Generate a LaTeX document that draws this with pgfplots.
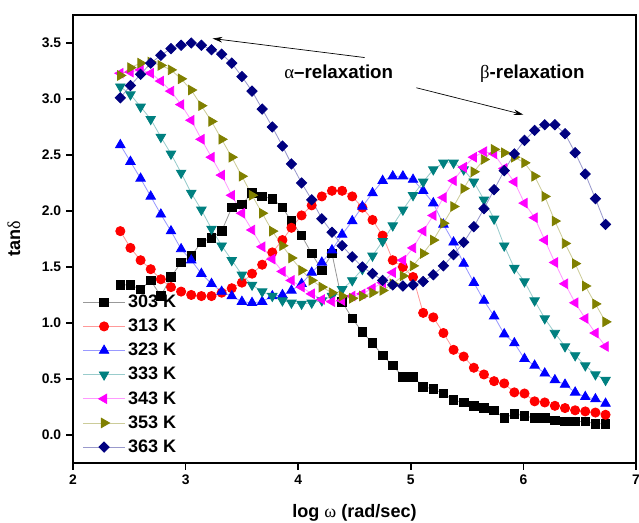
\documentclass[border=0pt]{standalone}
\usepackage{pgfplots}
\pgfplotsset{compat=1.18}
\usepackage{pgfplotstable}
\usepackage{fontspec}
\setmainfont{Liberation Sans}
\newfontfamily\grk{Liberation Serif}
\usetikzlibrary{arrows.meta}

\definecolor{cteal}{RGB}{0,128,128}
\definecolor{colive}{RGB}{128,128,0}
\definecolor{cnavy}{RGB}{0,0,128}
\definecolor{cmag}{RGB}{255,0,255}
\definecolor{cred}{RGB}{255,0,0}
\definecolor{cblue}{RGB}{0,0,255}

\pgfplotstableread{
x s303 s313 s323 s333 s343 s353 s363
2.42 1.34 1.82 2.59 3.11 3.23 3.21 3.01
2.51 1.34 1.67 2.44 3.04 3.24 3.28 3.12
2.60 1.30 1.56 2.29 2.93 3.26 3.32 3.22
2.69 1.38 1.48 2.13 2.82 3.23 3.33 3.32
2.78 1.24 1.39 1.97 2.66 3.16 3.30 3.39
2.87 1.41 1.32 1.82 2.51 3.07 3.26 3.45
2.96 1.54 1.28 1.66 2.34 2.95 3.18 3.48
3.05 1.60 1.25 1.56 2.16 2.81 3.08 3.50
3.14 1.72 1.24 1.44 2.01 2.64 2.94 3.48
3.23 1.76 1.24 1.35 1.84 2.48 2.80 3.44
3.32 1.82 1.27 1.28 1.69 2.32 2.64 3.40
3.41 2.03 1.31 1.24 1.56 2.14 2.48 3.32
3.50 2.06 1.36 1.19 1.43 1.98 2.31 3.20
3.59 2.16 1.44 1.18 1.34 1.83 2.14 3.07
3.68 2.13 1.52 1.19 1.28 1.68 1.98 2.91
3.77 2.11 1.63 1.24 1.24 1.57 1.82 2.75
3.86 2.03 1.74 1.25 1.20 1.46 1.69 2.58
3.94 1.91 1.85 1.29 1.18 1.38 1.58 2.42
4.03 1.78 1.96 1.35 1.17 1.32 1.47 2.25
4.12 1.62 2.05 1.45 1.18 1.26 1.38 2.10
4.21 1.47 2.13 1.54 1.20 1.21 1.32 1.93
4.30 1.62 2.18 1.65 1.24 1.19 1.27 1.81
4.39 1.19 2.18 1.79 1.30 1.20 1.24 1.69
4.48 1.04 2.13 1.91 1.38 1.24 1.22 1.59
4.57 0.92 2.03 2.04 1.48 1.26 1.24 1.50
4.66 0.82 1.92 2.16 1.60 1.31 1.27 1.44
4.75 0.71 1.78 2.27 1.73 1.36 1.29 1.38
4.84 0.62 1.56 2.31 1.87 1.45 1.35 1.34
4.93 0.52 1.50 2.31 2.01 1.56 1.42 1.33
5.02 0.52 1.41 2.28 2.14 1.67 1.51 1.34
5.11 0.43 1.09 2.18 2.26 1.82 1.62 1.37
5.20 0.41 1.05 2.07 2.37 1.96 1.74 1.43
5.29 0.37 0.91 1.88 2.43 2.12 1.89 1.51
5.38 0.31 0.76 1.72 2.43 2.27 2.04 1.61
5.47 0.29 0.70 1.53 2.37 2.39 2.20 1.72
5.56 0.26 0.60 1.36 2.26 2.48 2.35 1.86
5.65 0.24 0.54 1.20 2.10 2.53 2.46 2.02
5.74 0.22 0.48 1.06 1.93 2.51 2.55 2.19
5.83 0.15 0.46 0.90 1.69 2.38 2.52 2.36
5.92 0.19 0.38 0.82 1.49 2.26 2.48 2.51
6.01 0.17 0.37 0.68 1.37 2.07 2.43 2.63
6.10 0.15 0.30 0.62 1.20 1.94 2.31 2.72
6.19 0.15 0.29 0.55 1.04 1.74 2.13 2.77
6.28 0.13 0.26 0.49 0.91 1.54 1.91 2.77
6.37 0.12 0.24 0.45 0.79 1.35 1.71 2.69
6.46 0.12 0.22 0.38 0.71 1.18 1.53 2.52
6.55 0.12 0.21 0.34 0.62 1.04 1.33 2.33
6.64 0.10 0.20 0.32 0.54 0.91 1.17 2.11
6.73 0.10 0.18 0.28 0.49 0.79 1.01 1.88
}\data

\pgfplotsset{
  ser/.style n args={4}{draw=#1!40!white, line width=0.6pt, mark=#2, mark size=#3,
     mark options={solid, draw=#1, fill=#1, rotate=#4}},
}

\begin{document}
\begin{tikzpicture}
\begin{axis}[
  scale only axis, width=405.4pt, height=322.6pt,
  at={(0,0)}, anchor=south west,
  xmin=2, xmax=7, ymin=-0.25, ymax=3.75,
  xtick={2,3,4,5,6,7}, ytick={0,0.5,1,1.5,2,2.5,3,3.5},
  minor tick num=0,
  tick align=outside, tick pos=left,
  major tick length=5pt,
  tick style={line width=1.2pt, black},
  axis line style={line width=1.4pt},
  /pgf/number format/assume math mode=true,
  ticklabel style={font=\bfseries\fontsize{10}{12}\selectfont},
  yticklabel style={/pgf/number format/.cd, fixed, fixed zerofill, precision=1},
  xticklabel style={/pgf/number format/.cd, fixed, precision=0},
  xlabel={\bfseries log {\grk\mdseries ω} (rad/sec)},
  xlabel style={font=\fontsize{13}{15}\selectfont, at={(axis description cs:0.5,-0.112)}, anchor=center},
  ylabel={\bfseries tan{\grk\mdseries δ}},
  ylabel style={font=\fontsize{13}{15}\selectfont, at={(axis description cs:-0.105,0.5)}, anchor=center, rotate=0},
  legend cell align=left,
  legend style={at={(axis description cs:0.012,0.006)}, anchor=south west, draw=none, fill=none,
     font=\bfseries\fontsize{13}{15}\selectfont, row sep=2.8pt, inner sep=2pt},
  legend image code/.code={\draw[mark repeat=2, mark phase=2, #1] plot coordinates {(0pt,0pt) (15pt,0pt) (30pt,0pt)};},
  clip=false,
]
\addplot[ser={black}{square*}{3.1pt}{0}] table[x=x, y=s303] {\data};
\addlegendentry{303 K}
\addplot[ser={cred}{*}{3.3pt}{0}] table[x=x, y=s313] {\data};
\addlegendentry{313 K}
\addplot[ser={cblue}{triangle*}{3.9pt}{0}] table[x=x, y=s323] {\data};
\addlegendentry{323 K}
\addplot[ser={cteal}{triangle*}{3.9pt}{180}] table[x=x, y=s333] {\data};
\addlegendentry{333 K}
\addplot[ser={cmag}{triangle*}{3.9pt}{90}] table[x=x, y=s343] {\data};
\addlegendentry{343 K}
\addplot[ser={colive}{triangle*}{3.9pt}{-90}] table[x=x, y=s353] {\data};
\addlegendentry{353 K}
\addplot[ser={cnavy}{square*}{2.6pt}{45}] table[x=x, y=s363] {\data};
\addlegendentry{363 K}

\node[font=\bfseries\fontsize{13.5}{15}\selectfont] at (axis cs:4.36,3.24) {{\grk\mdseries α}–relaxation};
\node[font=\bfseries\fontsize{13.5}{15}\selectfont] at (axis cs:6.08,3.23) {{\grk\mdseries β}-relaxation};
\draw[line width=0.5pt, -{Stealth[length=7pt, width=4pt]}] (axis cs:4.59,3.37) -- (axis cs:3.24,3.54);
\draw[line width=0.5pt, -{Stealth[length=7pt, width=4pt]}] (axis cs:5.05,3.10) -- (axis cs:6.00,2.86);
\end{axis}
\pgfresetboundingbox
\path[use as bounding box] (-52.6pt,-43.2pt) rectangle (407.6pt,333.4pt);
\end{tikzpicture}
\end{document}
